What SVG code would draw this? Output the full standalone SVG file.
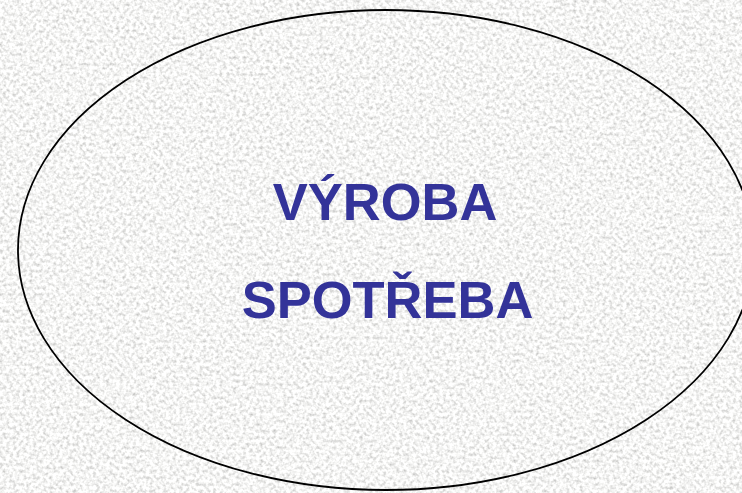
<svg xmlns="http://www.w3.org/2000/svg" width="742" height="493" viewBox="0 0 742 493">
  <style>
    .label { font-family: "Liberation Sans", Arial, sans-serif; font-weight: bold; font-size: 52.5px; fill: #333399; text-anchor: middle; }
    .outline { fill: none; stroke: #000000; stroke-width: 1.8; }
  </style>
  <defs>
    <filter id="grain" x="0" y="0" width="742" height="493" filterUnits="userSpaceOnUse">
      <feTurbulence type="fractalNoise" baseFrequency="0.3" numOctaves="2" seed="7" result="n"/>
      <feColorMatrix in="n" type="matrix" values="0.9 0 0 0 0.46  0.9 0 0 0 0.46  0.9 0 0 0 0.45  0 0 0 0 1"/>
    </filter>
  </defs>
  <rect id="background" x="0" y="0" width="742" height="493" fill="#e6e6e4"/>
  <rect x="0" y="0" width="742" height="493" filter="url(#grain)"/>
  <g id="ellipse-node">
    <ellipse class="outline" cx="386" cy="250" rx="368" ry="240"/>
    <text class="label" x="385" y="220">VÝROBA</text>
    <text class="label" x="387.5" y="318">SPOTŘEBA</text>
  </g>
  <g id="connectors"></g>
</svg>
